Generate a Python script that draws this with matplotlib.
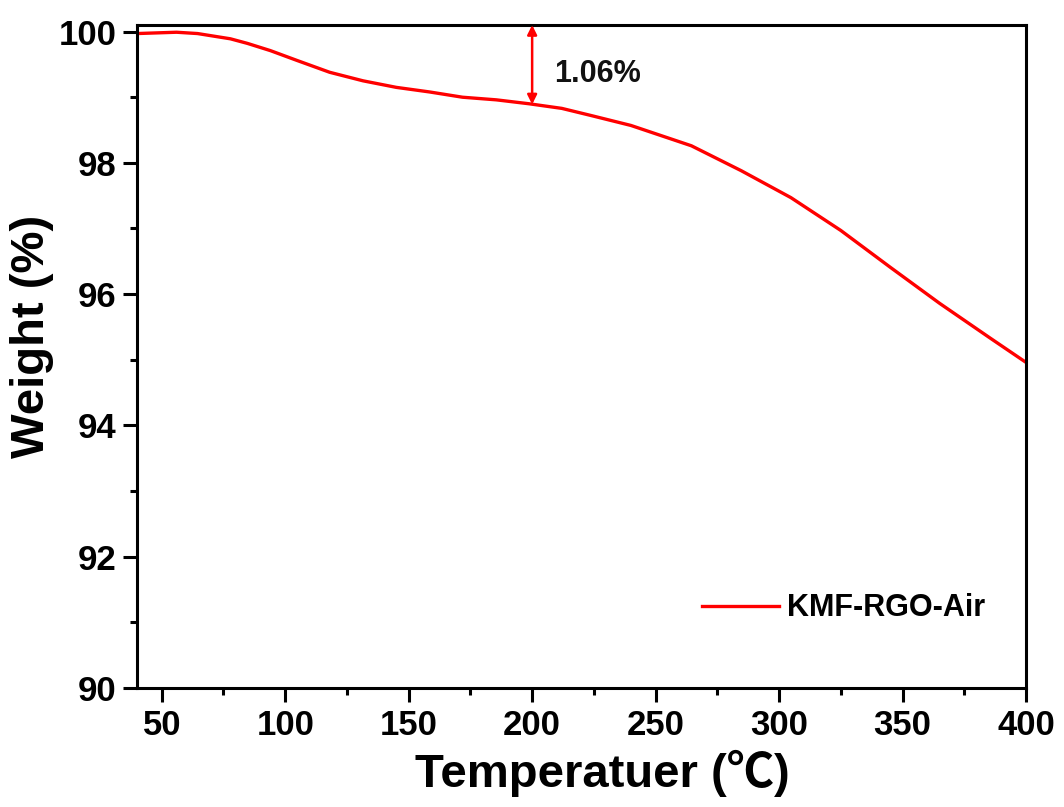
import matplotlib.pyplot as plt
from matplotlib.ticker import MultipleLocator

plt.rcParams['font.family'] = ['Liberation Sans', 'Noto Sans CJK SC', 'DejaVu Sans']
plt.rcParams['font.weight'] = 'bold'

# TGA curve
temp = [40, 56, 64.5, 77.8, 84.7, 94, 104.8, 118, 131.5, 145, 158.5, 171.8, 185.5,
        198.8, 212, 224, 240, 264.5, 284.7, 304.8, 325, 345, 365, 385.5, 400]
weight = [99.97, 99.99, 99.97, 99.89, 99.82, 99.71, 99.56, 99.38, 99.25, 99.15, 99.08,
          99.0, 98.96, 98.90, 98.83, 98.72, 98.57, 98.26, 97.88, 97.47, 96.97, 96.41,
          95.86, 95.33, 94.96]
series_label = 'KMF-RGO-Air'
loss_temp = 200
loss_low = 98.89
loss_text = '1.06%'

fig = plt.figure(figsize=(10.64, 8.07), dpi=100)
ax = fig.add_axes([0.1288, 0.1475, 0.8355, 0.8215])

ax.plot(temp, weight, color='#ff0000', lw=2.4, label=series_label)

# weight-loss arrow
ax.annotate('', xy=(loss_temp, loss_low), xytext=(loss_temp, 100.1),
            arrowprops=dict(arrowstyle='<|-|>', color='#ff0000', lw=1.8,
                            mutation_scale=14, shrinkA=0, shrinkB=0))
ax.text(loss_temp + 9, 99.36, loss_text, fontsize=22, fontweight='bold',
        ha='left', va='center', color='#111111')

ax.set_xlim(40, 400)
ax.set_ylim(90, 100.1)
ax.xaxis.set_major_locator(MultipleLocator(50))
ax.xaxis.set_minor_locator(MultipleLocator(25))
ax.yaxis.set_major_locator(MultipleLocator(2))
ax.yaxis.set_minor_locator(MultipleLocator(1))
ax.set_xticks([50, 100, 150, 200, 250, 300, 350, 400])

for s in ax.spines.values():
    s.set_linewidth(2.2)
ax.tick_params(which='major', direction='out', length=10, width=2.2, labelsize=25, pad=5)
ax.tick_params(which='minor', direction='out', length=5, width=2.2)
for lab in ax.get_xticklabels() + ax.get_yticklabels():
    lab.set_fontweight('bold')

ax.set_xlabel('Temperatuer (℃)', fontsize=34, fontweight='bold', labelpad=6, x=0.523)
ax.set_ylabel('Weight (%)', fontsize=34, fontweight='bold', labelpad=3, y=0.53)

ax.legend(loc='center left', bbox_to_anchor=(0.636, 0.12), frameon=False,
          handlelength=2.5, handletextpad=0.28, borderpad=0,
          borderaxespad=0, prop={'weight': 'bold', 'size': 22})

fig.savefig('out.png', dpi=100)
